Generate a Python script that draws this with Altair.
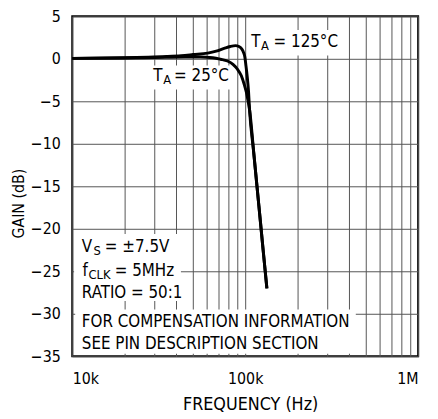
import altair as alt
import pandas as pd

# ---- data ----
freq_25 = [10000, 20000, 30000, 45000, 55000, 65000, 72000, 79000, 85000, 90000,
           95000, 99000, 101500, 104000, 106000, 112000, 120000, 127000, 133500]
gain_25 = [0.05, 0.1, 0.15, 0.2, 0.2, 0.12, -0.05, -0.26, -0.65, -1.2,
           -2.0, -3.1, -3.9, -5.0, -6.0, -11.0, -17.3, -22.5, -27.0]

freq_125 = [10000, 20000, 27500, 35000, 42700, 50000, 60700, 68000, 75500, 82000,
            88000, 92000, 96000, 98000, 99600, 101000, 102600, 104500, 106000,
            112000, 120000, 127000, 133500]
gain_125 = [0.05, 0.12, 0.19, 0.27, 0.37, 0.5, 0.67, 0.9, 1.22, 1.45,
            1.55, 1.45, 1.1, 0.7, 0.19, -0.8, -2.0, -3.8, -6.0,
            -11.0, -17.3, -22.5, -27.0]

x_grid_values = [10000, 20000, 30000, 40000, 50000, 60000, 70000, 80000, 90000,
                 100000, 200000, 300000, 400000, 500000, 600000, 700000, 800000,
                 900000, 1000000]
y_values = [5, 0, -5, -10, -15, -20, -25, -30, -35]

# annotation texts (positions in data units: frequency, dB)
ann_text = ["T", "A", "= 125°C",
            "T", "A", "= 25°C",
            "V", "S", "= ±7.5V",
            "f", "CLK", "= 5MHz",
            "RATIO = 50:1",
            "FOR COMPENSATION INFORMATION",
            "SEE PIN DESCRIPTION SECTION"]
ann_f = [108300, 123400, 145900,
         29400, 33560, 38800,
         11360, 13270, 15440,
         11450, 12420, 17610,
         11360, 11360, 11360]
ann_db = [1.40, 1.08, 1.40,
          -2.58, -2.95, -2.58,
          -22.7, -23.1, -22.7,
          -25.57, -25.94, -25.57,
          -28.15, -31.6, -34.1]
ann_size = [17, 13, 17,
            17, 13, 17,
            17, 13, 17,
            17, 13, 17,
            17, 17, 17]

# white backgrounds behind the annotations
box_f1 = [104000, 28300, 10250, 10400]
box_f2 = [340000, 85000, 42500, 436000]
box_db1 = [0.4, -0.8, -20.6, -29.5]
box_db2 = [3.4, -3.6, -28.5, -34.7]

FONT = "DejaVu Sans Condensed"

curves = pd.concat([
    pd.DataFrame({"f": freq_25, "g": gain_25, "s": "25"}),
    pd.DataFrame({"f": freq_125, "g": gain_125, "s": "125"}),
])
ann = pd.DataFrame({"t": ann_text, "f": ann_f, "g": ann_db, "size": ann_size})
boxes = pd.DataFrame({"f1": box_f1, "f2": box_f2, "g1": box_db1, "g2": box_db2})

xscale = alt.Scale(type="log", domain=[10000, 1000000], nice=False)
yscale = alt.Scale(domain=[-35, 5], nice=False)

xaxis = alt.Axis(
    values=x_grid_values,
    labelExpr="datum.value == 10000 ? '10k' : datum.value == 100000 ? '100k' : datum.value == 1000000 ? '1M' : ''",
    title="FREQUENCY (Hz)", grid=True, ticks=False, domain=False,
    labelPadding=15, titleX=180, titleY=49, titleBaseline="middle",
    titleFontSize=18,
)
yaxis = alt.Axis(
    values=y_values,
    labelExpr="datum.value < 0 ? '−' + abs(datum.value) : '' + datum.value",
    title="GAIN (dB)", grid=True, ticks=False, domain=False,
    labelPadding=12, titleX=-54, titleY=189, titleBaseline="middle", titleAlign="center",
    titleFontSize=16,
)

rects = alt.Chart(boxes).mark_rect(fill="white").encode(
    x=alt.X("f1:Q", scale=xscale, axis=xaxis),
    x2="f2:Q",
    y=alt.Y("g1:Q", scale=yscale, axis=yaxis),
    y2="g2:Q",
)

lines = alt.Chart(curves).mark_line(color="black", strokeWidth=3, interpolate="monotone").encode(
    x=alt.X("f:Q", scale=xscale),
    y=alt.Y("g:Q", scale=yscale),
    detail="s:N",
    order=alt.Order("f:Q"),
)

texts = alt.Chart(ann).mark_text(align="left", baseline="alphabetic", color="black", font=FONT).encode(
    x=alt.X("f:Q", scale=xscale),
    y=alt.Y("g:Q", scale=yscale),
    text="t:N",
    size=alt.Size("size:Q", scale=None, legend=None),
)

chart = alt.layer(rects, lines, texts).properties(
    width=350, height=344,
    padding={"left": 65, "top": 6, "right": 12, "bottom": 56},
    autosize=alt.AutoSizeParams(type="none"),
    background="white",
).configure_view(
    stroke="black", strokeWidth=2,
).configure_axis(
    labelFont=FONT, titleFont=FONT, labelFontSize=16,
    labelColor="black", titleColor="black", titleFontWeight="normal",
    gridColor="#555555", gridWidth=1, gridOpacity=1,
)

chart.save("out.html", embed_options={"renderer": "svg", "actions": False})
